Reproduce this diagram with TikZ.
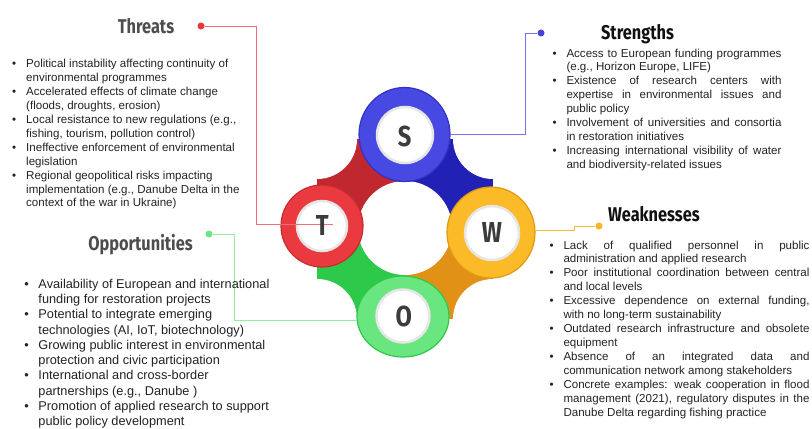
\documentclass[tikz,border=0pt]{standalone}
\usepackage{fontspec}
\setmainfont{Liberation Sans}
\newfontfamily\titlefont[FakeStretch=0.82]{Fira Sans}
\usetikzlibrary{shapes.geometric}
\definecolor{qred}{HTML}{C1272F}
\definecolor{qblue}{HTML}{2121B5}
\definecolor{qorange}{HTML}{E09116}
\definecolor{qgreen}{HTML}{2DC94A}
\definecolor{sring}{HTML}{4848E3}
\definecolor{sedge}{HTML}{3232C8}
\definecolor{tring}{HTML}{EA3A40}
\definecolor{tedge}{HTML}{C62B33}
\definecolor{wring}{HTML}{FBBA28}
\definecolor{wedge}{HTML}{E09A12}
\definecolor{oring}{HTML}{69E67F}
\definecolor{oedge}{HTML}{2FC84B}
\definecolor{innerring}{HTML}{E6E6E6}
\definecolor{lettergray}{HTML}{3C3C3C}
\definecolor{titlegray}{HTML}{4D4D4D}
\definecolor{titleblack}{HTML}{111111}
\definecolor{bodytext}{HTML}{222222}
\definecolor{tline}{HTML}{EF6E72}
\definecolor{sline}{HTML}{7474EE}
\definecolor{wline}{HTML}{F6BB35}
\definecolor{oline}{HTML}{94EC9F}
\definecolor{tdotc}{HTML}{E8363D}
\definecolor{sdotc}{HTML}{4545DD}
\definecolor{wdotc}{HTML}{F9B429}
\definecolor{odotc}{HTML}{6EE583}
\newcommand{\bitem}{\par\hangindent=14bp\hangafter=1\noindent\makebox[14bp][l]{\textbullet}}
\tikzset{
  bigring/.style={ellipse, inner sep=0pt, line width=1.2bp},
  innerdisk/.style={circle, fill=white, draw=innerring, line width=2.5bp, inner sep=0pt},
  letter/.style={inner sep=0pt, text=lettergray, font=\titlefont\bfseries\fontsize{29}{30}\selectfont},
  title/.style={anchor=base, inner sep=0pt, font=\titlefont\bfseries\fontsize{20}{24}\selectfont},
  listbox/.style={anchor=base west, inner sep=0pt, text=bodytext},
  conn/.style={line width=1bp},
  dotmark/.style={circle, inner sep=0pt, minimum size=7bp}
}
\begin{document}
\begin{tikzpicture}[x=1bp,y=-1bp]
\useasboundingbox (0,0) rectangle (812,428);
% connecting quadrants
\fill[qred] (317,139) rectangle (405,228);
\fill[qblue] (405,139) rectangle (493,228);
\fill[qorange] (405,228) rectangle (493,319);
\fill[qgreen] (317,228) rectangle (405,319);
\fill[white] (317,139) circle (40) (493,139) circle (40) (493,319) circle (40) (317,319) circle (40) (405,228) circle (47);
% dots
\node[dotmark, fill=tdotc] (tdot) at (201,26) {};
\node[dotmark, fill=sdotc] (sdot) at (541,33) {};
\node[dotmark, fill=wdotc] (wdot) at (599,226) {};
\node[dotmark, fill=odotc] (odot) at (209,234) {};
% big rings
\node[bigring, fill=sring, draw=sedge, minimum width=91bp, minimum height=94bp] (S) at (404.5,134.5) {};
\node[bigring, fill=tring, draw=tedge, minimum width=82bp, minimum height=82bp] (T) at (322,226) {};
\node[bigring, fill=wring, draw=wedge, minimum width=88bp, minimum height=91bp] (W) at (491,232.5) {};
\node[bigring, fill=oring, draw=oedge, minimum width=92bp, minimum height=81bp] (O) at (403,316.5) {};
% connectors
\draw[conn, sline] (sdot) -- ++(-16,0) |- (S.east);
\draw[conn, wline] (wdot) -- ++(-25,0) -- ++(0,4) -- (W.east |- 0,230);
\draw[conn, oline] (odot) -- ++(25,0) |- (O.west |- 0,320);
% inner disks
\node[innerdisk, minimum size=56bp] (Si) at (405,135) {};
\node[innerdisk, minimum size=50bp] (Ti) at (322,226) {};
\node[innerdisk, minimum size=54bp] (Wi) at (492,233) {};
\node[innerdisk, minimum size=53bp] (Oi) at (403,316) {};
\coordinate (tend) at (333,224);
\draw[conn, tline] (tdot) -- ++(55,0) |- (tend);
% letters
\node[letter] (Sl) at (404.7,136.7) {S};
\node[letter] (Tl) at (322.3,225.5) {T};
\node[letter] (Wl) at (492,232.5) {W};
\node[letter] (Ol) at (403.7,316.7) {O};
% titles
\node[title, text=titlegray] (tthr) at (146,33.3) {Threats};
\node[title, text=titleblack] (tstr) at (637.5,39) {Strengths};
\node[title, text=titleblack] (twea) at (654,221.7) {Weaknesses};
\node[title, text=titlegray] (topp) at (140.5,250.3) {Opportunities};
% lists
\node[listbox] (lthr) at (12,67.5) {\parbox[t]{250bp}{\raggedright\fontsize{11.6}{14}\selectfont\hyphenpenalty=10000 \exhyphenpenalty=10000
\bitem Political instability affecting continuity of\linebreak environmental programmes
\bitem Accelerated effects of climate change\linebreak (floods, droughts, erosion)
\bitem Local resistance to new regulations (e.g.,\linebreak fishing, tourism, pollution control)
\bitem Ineffective enforcement of environmental\linebreak legislation
\bitem Regional geopolitical risks impacting\linebreak implementation (e.g., Danube Delta in the\linebreak context of the war in Ukraine)}};
\node[listbox] (lstr) at (552.3,57) {\parbox[t]{229bp}{\fontsize{11.6}{14}\selectfont\hyphenpenalty=10000 \exhyphenpenalty=10000
\bitem Access to European funding programmes\linebreak (e.g., Horizon Europe, LIFE)
\bitem Existence of research centers with\linebreak expertise in environmental issues and\linebreak public policy
\bitem Involvement of universities and consortia\linebreak in restoration initiatives
\bitem Increasing international visibility of water\linebreak and biodiversity-related issues}};
\node[listbox] (lwea) at (549.3,249) {\parbox[t]{260bp}{\fontsize{11.6}{14}\selectfont\hyphenpenalty=10000 \exhyphenpenalty=10000
\bitem Lack of qualified personnel in public\linebreak administration and applied research
\bitem Poor institutional coordination between central\linebreak and local levels
\bitem Excessive dependence on external funding,\linebreak with no long-term sustainability
\bitem Outdated research infrastructure and obsolete\linebreak equipment
\bitem Absence of an integrated data and\linebreak communication network among stakeholders
\bitem Concrete examples: weak cooperation in flood\linebreak management (2021), regulatory disputes in the\linebreak Danube Delta regarding fishing practice}};
\node[listbox] (lopp) at (24.3,288.5) {\parbox[t]{265bp}{\raggedright\fontsize{12.8}{15.3}\selectfont\hyphenpenalty=10000 \exhyphenpenalty=10000
\bitem Availability of European and international\linebreak funding for restoration projects
\bitem Potential to integrate emerging\linebreak technologies (AI, IoT, biotechnology)
\bitem Growing public interest in environmental\linebreak protection and civic participation
\bitem International and cross-border\linebreak partnerships (e.g., Danube )
\bitem Promotion of applied research to support\linebreak public policy development}};
\end{tikzpicture}
\end{document}
